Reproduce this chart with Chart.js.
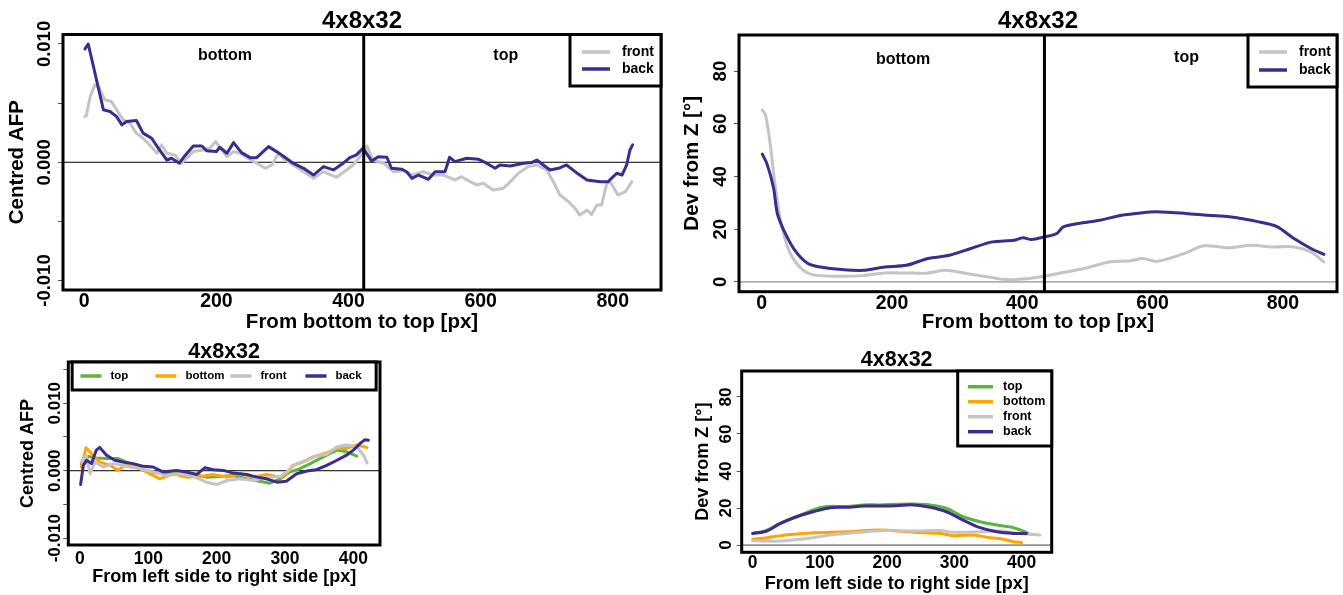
<!DOCTYPE html>
<html>
<head>
<meta charset="utf-8">
<script src="https://cdn.jsdelivr.net/npm/chart.js@4.4.1/dist/chart.umd.min.js"></script>
<style>
  html, body { margin: 0; padding: 0; background: #fff; }
  body { width: 1343px; height: 595px; position: relative; overflow: hidden; }
  .panel { position: absolute; }
</style>
</head>
<body>
<div class="panel" style="left:0;top:0"><canvas id="afpLong" width="670" height="335"></canvas></div>
<div class="panel" style="left:672px;top:0"><canvas id="devLong" width="671" height="335"></canvas></div>
<div class="panel" style="left:0;top:335px"><canvas id="afpSide" width="400" height="260"></canvas></div>
<div class="panel" style="left:680px;top:335px"><canvas id="devSide" width="400" height="260"></canvas></div>
<script>
const FONT = "'Liberation Sans', Arial, Helvetica, sans-serif";
const COL = { top: '#5db33f', bottom: '#ffa500', front: '#c4c4c4', back: '#3d2b8e' };

// ---- top left: centred AFP, bottom -> top
const afpFrontX = [1,3,9,16,23,31,41,49,59,69,79,89,99,110,117,125,137,147,155,165,180,190,199,208,216,226,236,248,261,274,284,294,301,316,332,347,362,382,397,407,417,428,437,453,468,483,496,513,528,544,561,571,584,594,604,619,634,645,657,672,685,700,710,720,733,743,750,761,768,776,783,791,796,808,819,829];
const afpFrontY = [0.00386,0.00394,0.00556,0.00655,0.00627,0.00528,0.00514,0.00443,0.00358,0.0033,0.00246,0.00203,0.00147,0.00076,0.00147,0.00076,0.00062,-0.00008,0.00034,0.0009,0.00104,0.00119,0.00175,0.00104,0.00047,0.0009,0.00076,0.00034,-0.00008,-0.00051,-0.00023,0.00076,0.00034,-0.00023,-0.0008,-0.00136,-0.0008,-0.00127,-0.00065,-0.00023,0.00047,0.00138,0.00019,-0.00008,-0.0008,-0.00071,-0.00108,-0.0008,-0.00108,-0.00108,-0.0015,-0.00122,-0.00164,-0.00192,-0.00178,-0.00235,-0.0022,-0.00164,-0.00093,-0.00037,-0.00023,-0.00065,-0.00164,-0.00277,-0.00334,-0.0039,-0.00447,-0.00404,-0.00441,-0.00362,-0.00362,-0.00178,-0.00164,-0.00277,-0.00249,-0.00164];
const afpBackX = [1,6,29,39,49,57,64,79,89,102,112,125,132,144,152,165,178,185,200,205,216,226,238,251,261,279,291,301,316,332,347,362,377,392,402,412,422,435,445,458,465,481,488,496,506,521,531,546,553,561,579,597,609,622,629,645,665,677,685,705,718,730,745,761,781,793,806,814,821,826,830];
const afpBackY = [0.00958,0.0100,0.00443,0.00429,0.00386,0.00316,0.00344,0.00353,0.00246,0.00203,0.00119,0.00019,0.00034,-0.00008,0.00053,0.00138,0.00138,0.00098,0.0009,0.00127,0.00076,0.00166,0.00081,0.00039,0.00039,0.00132,0.0009,0.00053,-0.00008,-0.00051,-0.00108,-0.00037,-0.00065,-0.00008,0.00039,0.00062,0.00119,0.0001,0.00047,0.00042,-0.00051,-0.00059,-0.0008,-0.00136,-0.00108,-0.00144,-0.0008,-0.0008,0.00042,0.00005,0.00034,0.00025,-0.00008,-0.00051,-0.00023,-0.00031,-0.00008,-0.00003,0.00019,-0.00065,-0.00051,-0.00023,-0.00088,-0.0015,-0.00164,-0.00164,-0.00093,-0.00108,-0.00023,0.00104,0.00147];

// ---- top right: deviation from Z, bottom -> top
const devFrontX = [1,6,13,21,31,44,64,84,123,156,189,222,255,282,321,348,374,401,434,467,500,533,566,585,605,625,651,678,718,751,784,817,843,863];
const devFrontY = [65.2,63.3,52.5,36,20.9,10.8,4.4,2.5,2.2,2.4,3.4,3.4,3.4,4.4,2.9,1.9,0.9,1.1,2.2,3.8,5.4,7.6,8,8.9,7.8,8.9,11,13.7,13,13.9,13.3,13.3,11.4,7.6];
const devBackX = [1,8,18,24,34,51,71,90,123,156,189,222,255,288,321,354,387,401,414,434,453,463,486,519,552,585,605,651,684,718,738,763,790,817,843,863];
const devBackY = [48.5,44.9,36,26,19.6,12,7,5.7,4.7,4.4,5.7,6.3,8.9,10.1,12.7,15.2,15.8,16.8,16.1,17.1,18.4,20.9,22.2,23.4,25.3,26.3,26.6,26,25.3,24.7,24,22.8,21.1,16.5,12.7,10.5];

// ---- bottom left: centred AFP, left -> right
const sideTopX = [2,5,12,24,39,56,63,78,93,107,127,146,166,185,205,224,244,263,278,293,307,322,337,351,366,376,390,405];
const sideTopY = [0.001,0.0015,0.0021,0.0019,0.0018,0.0018,0.0015,0.0008,0.00015,-0.0002,-0.00045,-0.0002,-0.00055,-0.00095,-0.00085,-0.0007,-0.0012,-0.00155,-0.00185,-0.0012,-0.0002,0.0003,0.00105,0.0018,0.00255,0.00305,0.0028,0.00215];
const sideBottomX = [2,9,17,29,44,56,68,83,98,117,137,156,176,195,215,234,254,273,293,302,312,327,341,361,376,390,405,420];
const sideBottomY = [0.0005,0.0034,0.0025,0.0013,0.0008,0.00005,0.00105,0.00055,-0.0002,-0.0012,-0.00045,-0.00095,-0.00085,-0.00055,-0.00095,-0.00045,-0.00095,-0.00055,-0.00095,-0.00045,0.0008,0.0013,0.00205,0.00265,0.0033,0.0033,0.0038,0.00345];
const sideFrontX = [2,9,15,22,34,49,68,88,107,127,146,166,185,200,215,234,254,273,293,302,317,332,346,361,376,390,405,415,420];
const sideFrontY = [0.0013,0.0023,-0.00045,0.0013,0.00055,0.00105,0.00065,0.0003,-0.0002,-0.0007,-0.00045,-0.00085,-0.0017,-0.00205,-0.00145,-0.0012,-0.00145,-0.00095,-0.00085,-0.0002,0.00105,0.00155,0.00215,0.00245,0.00355,0.0038,0.00355,0.0023,0.00115];
const sideBackX = [1,5,10,17,24,29,39,51,63,78,93,107,122,141,156,171,183,195,210,224,244,259,273,288,302,317,332,346,361,376,390,400,410,417,422];
const sideBackY = [-0.00205,0.0008,0.00155,0.00105,0.00305,0.00345,0.0023,0.00155,0.0013,0.00105,0.00065,0.00055,-0.0002,0.00005,-0.0002,-0.00055,0.00045,0.00015,0.00005,-0.00035,-0.00055,-0.00095,-0.0012,-0.0017,-0.00155,-0.00045,-0.00005,0.00015,0.0008,0.00155,0.0023,0.00305,0.00405,0.0046,0.0045];

// ---- bottom right: deviation from Z, left -> right
const devSideTopX = [0,16,41,65,90,110,140,165,189,214,239,264,288,313,338,363,388,402,410];
const devSideTopY = [6.3,7.2,11.7,15.3,19,20.8,20.8,21.7,21.7,22,22.2,21.7,19.9,15.3,12.6,10.8,9.4,7.6,6.3];
const devSideBottomX = [0,21,41,65,90,140,189,239,279,298,328,353,373,388,400];
const devSideBottomY = [3.1,4,5.1,6,6.7,7.2,8.1,6.9,6.3,5.1,5.4,4,3.2,1.8,1.4];
const devSideFrontX = [0,41,90,115,140,189,239,279,298,338,368,388,407,427];
const devSideFrontY = [2.3,2.2,4,5.4,6.3,7.8,7.6,7.9,6.9,7.2,7.6,6.7,6,5.4];
const devSideBackX = [0,21,41,65,90,115,140,165,189,214,239,264,288,313,338,363,388,407];
const devSideBackY = [6.3,7.6,11.7,15.3,18,20.2,20.4,21.1,21.1,21.3,21.7,20.4,18,13.5,9.4,7.2,6.3,6.3];

// ticks and annotations
const longTicksX = [0, 200, 400, 600, 800];
const sideTicksX = [0, 100, 200, 300, 400];
const afpTicksY = [-0.01, -0.005, 0, 0.005, 0.01];
const afpSideTicksY = [-0.01, -0.005, 0, 0.005, 0.01, 0.015];
const afpLabelsY = [-0.01, 0, 0.01];
const devTicksY = [0, 20, 40, 60, 80];
const regionNames = ['bottom', 'top'];
const afpRegionX = [213, 638];
const afpRegionY = [0.009, 0.009];
const devRegionX = [217, 652];
const devRegionY = [84.5, 85.1];
const afpSplit = 423;
const devSplit = 434;

const pts = (xs, ys) => xs.map((x, i) => ({ x, y: ys[i] }));

function series(label, color, xs, ys, order) {
  return { label, data: pts(xs, ys), borderColor: color, order };
}

function drawLegend(ctx, a, L, sets) {
  const x0 = L.horizontal ? (a.left + a.right) / 2 - L.w / 2 : a.right - L.w;
  const y0 = a.top;
  ctx.fillStyle = '#fff';
  ctx.fillRect(x0, y0, L.w, L.h);
  ctx.lineWidth = 3;
  ctx.strokeStyle = '#000';
  ctx.strokeRect(x0, y0, L.w, L.h);
  ctx.font = `bold ${L.size}px ${FONT}`;
  ctx.textAlign = 'left';
  ctx.textBaseline = 'middle';
  sets.forEach((s, i) => {
    const lx = x0 + (L.horizontal ? L.first + L.step * i : L.lineStart);
    const ly = y0 + (L.horizontal ? L.row : L.row0 + L.rowStep * i);
    ctx.strokeStyle = s.borderColor;
    ctx.lineWidth = 3.5;
    ctx.beginPath();
    ctx.moveTo(lx, ly);
    ctx.lineTo(lx + L.lineLen, ly);
    ctx.stroke();
    ctx.fillStyle = '#000';
    ctx.fillText(s.label, lx + L.textOff, ly);
  });
}

function framePlugin(p) {
  return {
    id: 'frame',
    beforeDatasetsDraw(chart) {
      const { ctx, chartArea: a, scales: { y } } = chart;
      const y0 = y.getPixelForValue(0);
      ctx.save();
      ctx.strokeStyle = p.zeroColor;
      ctx.lineWidth = 1;
      ctx.beginPath();
      ctx.moveTo(a.left, y0);
      ctx.lineTo(a.right, y0);
      ctx.stroke();
      ctx.restore();
    },
    afterDatasetsDraw(chart) {
      const { ctx, chartArea: a, scales: { x, y } } = chart;
      ctx.save();
      ctx.strokeStyle = '#000';
      ctx.fillStyle = '#000';
      if (p.split != null) {
        const sx = x.getPixelForValue(p.split);
        ctx.lineWidth = 3;
        ctx.beginPath();
        ctx.moveTo(sx, a.top);
        ctx.lineTo(sx, a.bottom);
        ctx.stroke();
        ctx.font = `bold 16px ${FONT}`;
        ctx.textAlign = 'center';
        ctx.textBaseline = 'middle';
        regionNames.forEach((t, i) => {
          ctx.fillText(t, x.getPixelForValue(p.regionX[i]), y.getPixelForValue(p.regionY[i]));
        });
      }
      ctx.lineWidth = 3;
      ctx.strokeStyle = '#000';
      ctx.strokeRect(a.left, a.top, a.right - a.left, a.bottom - a.top);
      drawLegend(ctx, a, p.legend, chart.data.datasets);

      ctx.fillStyle = '#000';
      ctx.font = `bold ${p.titleSize}px ${FONT}`;
      ctx.textAlign = 'center';
      ctx.textBaseline = 'middle';
      ctx.fillText('4x8x32', (a.left + a.right) / 2, a.top - p.titleOff);

      // y tick labels stand on their side, as in the source
      ctx.font = `bold ${p.yLabSize}px ${FONT}`;
      p.yLabels.forEach(v => {
        ctx.save();
        ctx.translate(a.left - p.yLabOff, y.getPixelForValue(v));
        ctx.rotate(-Math.PI / 2);
        ctx.fillText(p.yFmt(v), 0, 0);
        ctx.restore();
      });
      ctx.restore();
    }
  };
}

function makePanel(p) {
  const tickFont = { family: FONT, size: p.tickSize, weight: 'bold' };
  const axisFont = { family: FONT, size: p.axisSize, weight: 'bold' };
  return new Chart(document.getElementById(p.id), {
    type: 'line',
    data: { datasets: p.datasets },
    options: {
      responsive: false,
      animation: false,
      events: [],
      layout: { padding: { left: 0, top: p.area.t, right: p.w - p.area.r, bottom: 0 } },
      plugins: { legend: { display: false }, tooltip: { enabled: false } },
      elements: {
        point: { radius: 0 },
        line: { borderWidth: 3, tension: p.tension, borderCapStyle: 'round', borderJoinStyle: 'round' }
      },
      scales: {
        x: {
          type: 'linear', min: p.xMin, max: p.xMax,
          afterBuildTicks: s => { s.ticks = p.xTicks.map(v => ({ value: v })); },
          afterFit: s => { s.height = p.h - p.area.b; },
          grid: { display: false, drawTicks: false },
          border: { display: false },
          ticks: { color: '#000', font: tickFont, padding: p.xTickPad, maxRotation: 0, autoSkip: false },
          title: { display: true, text: p.xTitle, color: '#000', font: axisFont, padding: { top: 0, bottom: p.xTitlePad } }
        },
        y: {
          type: 'linear', min: p.yMin, max: p.yMax,
          afterBuildTicks: s => { s.ticks = p.yTicks.map(v => ({ value: v })); },
          afterFit: s => { s.width = p.area.l; },
          grid: { drawOnChartArea: false, drawTicks: true, tickLength: 5, color: '#555', lineWidth: 1 },
          border: { display: false },
          ticks: { display: false },
          title: { display: true, text: p.yTitle, color: '#000', font: axisFont, padding: { top: p.yTitlePad, bottom: 0 } }
        }
      }
    },
    plugins: [framePlugin(p)]
  });
}

const afpFmt = v => v.toFixed(3);
const devFmt = v => String(v);

makePanel({
  id: 'afpLong', w: 670, h: 335, area: { l: 63, r: 661, t: 34.5, b: 290 },
  xMin: -32.2, xMax: 873, yMin: -0.0108, yMax: 0.0108,
  xTicks: longTicksX, yTicks: afpTicksY, yLabels: afpLabelsY, yFmt: afpFmt,
  xTitle: 'From bottom to top [px]', yTitle: 'Centred AFP',
  titleSize: 24, titleOff: 12.8, tickSize: 19.5, yLabSize: 18.5, axisSize: 20.5,
  xTickPad: 0.3, xTitlePad: 0.7, yTitlePad: 4.7, yLabOff: 18,
  tension: 0, zeroColor: '#000',
  split: afpSplit, regionX: afpRegionX, regionY: afpRegionY,
  legend: { w: 91, h: 51.5, lineStart: 12, lineLen: 28, textOff: 40, row0: 17.5, rowStep: 17, size: 14 },
  datasets: [
    series('front', COL.front, afpFrontX, afpFrontY, 2),
    series('back', COL.back, afpBackX, afpBackY, 1)
  ]
});

makePanel({
  id: 'devLong', w: 671, h: 335, area: { l: 67, r: 665, t: 35, b: 291.7 },
  xMin: -34.8, xMax: 883, yMin: -3.7, yMax: 93.7,
  xTicks: longTicksX, yTicks: devTicksY, yLabels: devTicksY, yFmt: devFmt,
  xTitle: 'From bottom to top [px]', yTitle: 'Dev from Z [°]',
  titleSize: 24, titleOff: 13.3, tickSize: 19.5, yLabSize: 18.5, axisSize: 20.5,
  xTickPad: 0, xTitlePad: 0.7, yTitlePad: 8.2, yLabOff: 18.5,
  tension: 0.3, zeroColor: '#777',
  split: devSplit, regionX: devRegionX, regionY: devRegionY,
  legend: { w: 89, h: 52, lineStart: 11, lineLen: 28, textOff: 40, row0: 17, rowStep: 18, size: 14 },
  datasets: [
    series('front', COL.front, devFrontX, devFrontY, 2),
    series('back', COL.back, devBackX, devBackY, 1)
  ]
});

makePanel({
  id: 'afpSide', w: 400, h: 260, area: { l: 68.3, r: 380, t: 27, b: 210 },
  xMin: -17, xMax: 439, yMin: -0.011, yMax: 0.0161,
  xTicks: sideTicksX, yTicks: afpSideTicksY, yLabels: afpLabelsY, yFmt: afpFmt,
  xTitle: 'From left side to right side [px]', yTitle: 'Centred AFP',
  titleSize: 21.5, titleOff: 10.3, tickSize: 17.5, yLabSize: 17, axisSize: 18,
  xTickPad: 3.5, xTitlePad: 7.2, yTitlePad: 17.5, yLabOff: 13.3,
  tension: 0, zeroColor: '#000',
  legend: { horizontal: true, w: 304, h: 28, first: 8.3, step: 75, lineLen: 21, textOff: 30, row: 14, size: 11.5 },
  datasets: [
    series('top', COL.top, sideTopX, sideTopY, 4),
    series('bottom', COL.bottom, sideBottomX, sideBottomY, 3),
    series('front', COL.front, sideFrontX, sideFrontY, 2),
    series('back', COL.back, sideBackX, sideBackY, 1)
  ]
});

makePanel({
  id: 'devSide', w: 400, h: 260, area: { l: 61.7, r: 371.7, t: 36, b: 217.3 },
  xMin: -16.4, xMax: 444.6, yMin: -3.9, yMax: 94,
  xTicks: sideTicksX, yTicks: devTicksY, yLabels: devTicksY, yFmt: devFmt,
  xTitle: 'From left side to right side [px]', yTitle: 'Dev from Z [°]',
  titleSize: 21.5, titleOff: 11, tickSize: 17.5, yLabSize: 17, axisSize: 18,
  xTickPad: 0.2, xTitlePad: 0, yTitlePad: 12.2, yLabOff: 15,
  tension: 0.3, zeroColor: '#444',
  legend: { w: 94, h: 75, lineStart: 10.3, lineLen: 25, textOff: 35, row0: 15.7, rowStep: 15, size: 12.5 },
  datasets: [
    series('top', COL.top, devSideTopX, devSideTopY, 4),
    series('bottom', COL.bottom, devSideBottomX, devSideBottomY, 3),
    series('front', COL.front, devSideFrontX, devSideFrontY, 2),
    series('back', COL.back, devSideBackX, devSideBackY, 1)
  ]
});
</script>
</body>
</html>
